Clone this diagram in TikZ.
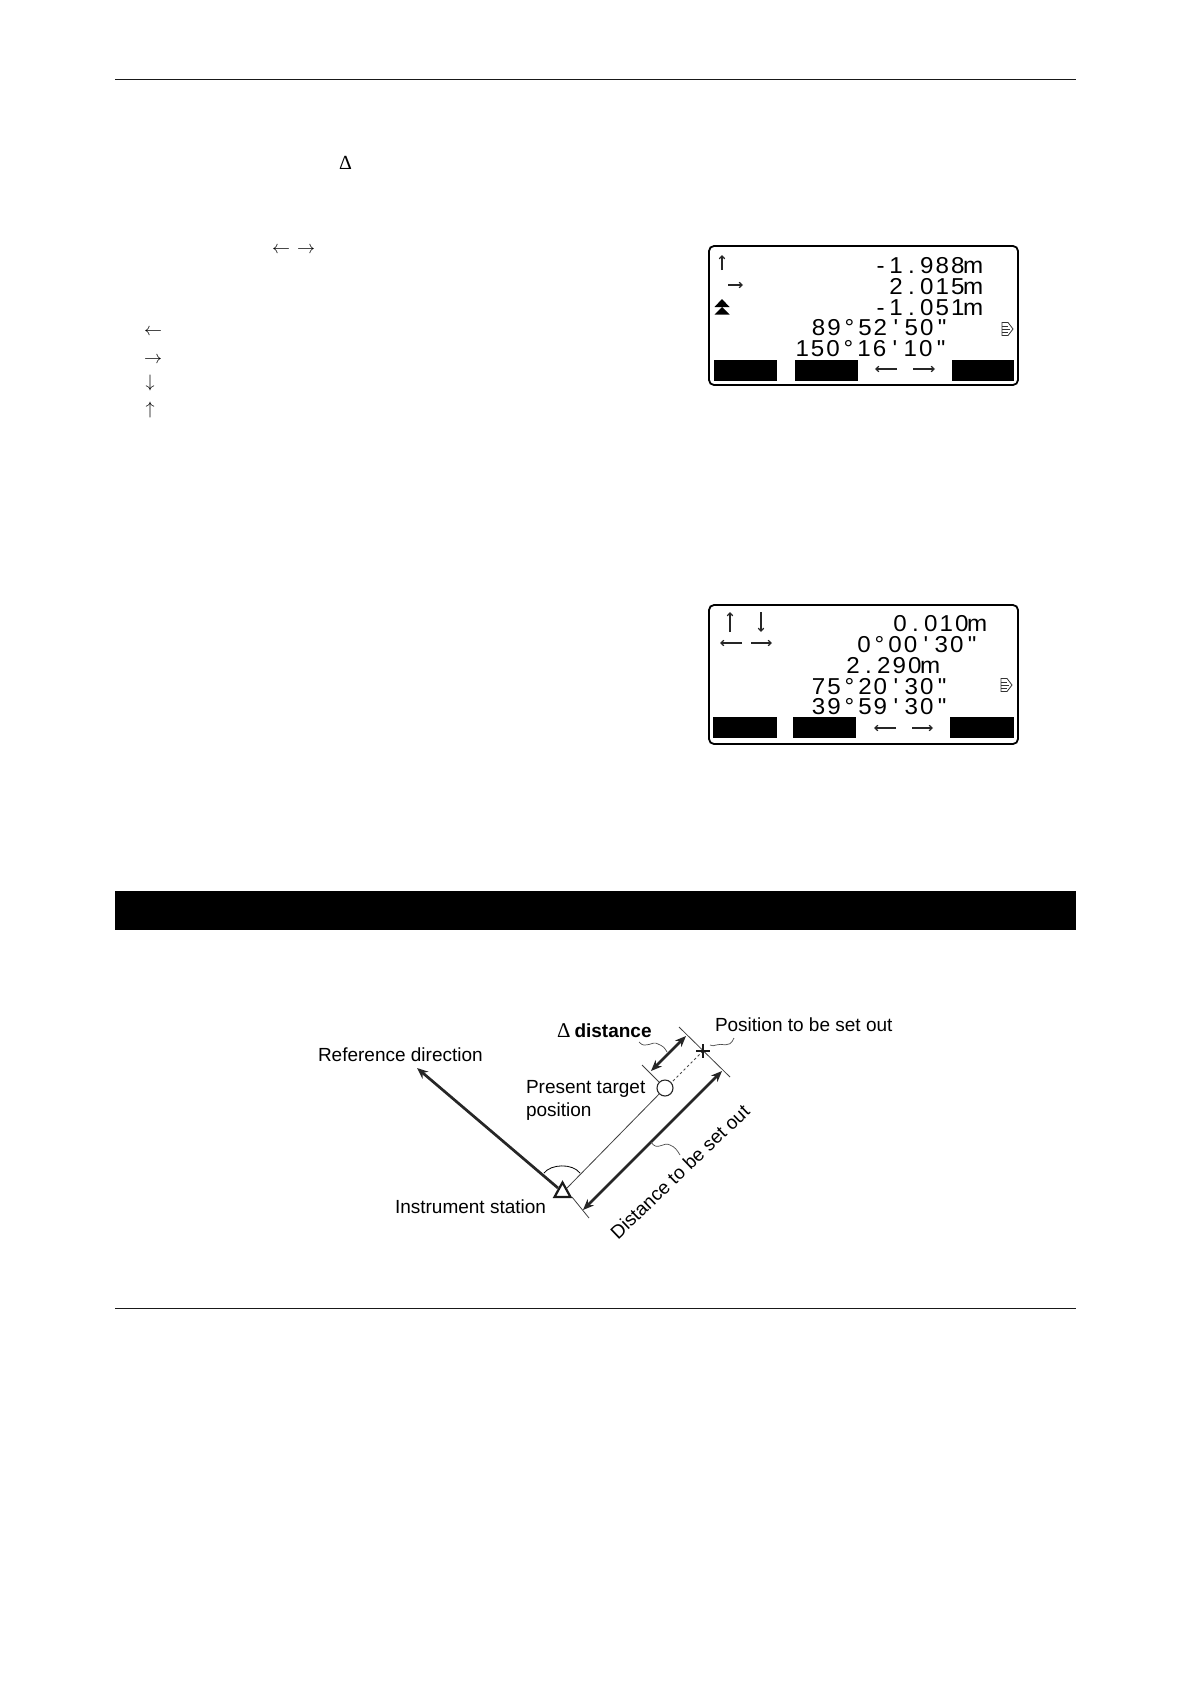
\RequirePackage{fix-cm}
\documentclass[tikz,border=0pt]{standalone}
\usepackage{fontspec}
\setmainfont{Liberation Sans}
\newfontfamily\lcdfont[FakeStretch=1.05]{Liberation Sans}
\newfontfamily\deltafont{Liberation Serif}
\usetikzlibrary{arrows.meta}
\newlength{\lcdcell}
\setlength{\lcdcell}{15.45pt}
\makeatletter
\def\lcdchars#1{\lcdchari#1\relax}
\def\lcdchari#1{\ifx#1\relax\else\makebox[\lcdcell]{#1}\expandafter\lcdchari\fi}
\makeatother
\newcommand{\lcdtext}[1]{{\lcdfont\fontsize{23}{23}\selectfont\lcdchars{#1}}}
\newcommand{\lab}{\fontsize{19}{22.5}\selectfont}
\newcommand{\glyph}{\fontsize{18}{18}\selectfont}
\tikzset{
  x=1pt,y=-1pt,
  every node/.style={inner sep=0pt,outer sep=0pt},
  lcdbox/.style={draw=black,line width=1.8pt,rounded corners=5pt},
  softkey/.style={fill=black},
  lcdrow/.style={anchor=base east},
  lcdarrow/.style={draw=black!85,line width=1.2pt,-{Straight Barb[length=3pt,width=5.5pt]}},
  textglyph/.style={anchor=center},
  pagerule/.style={draw=black!90,line width=1.1pt},
  thickarrow/.style={draw=black!85,line width=2.7pt,-{Stealth[length=11pt,width=9pt]}},
  dblarrow/.style={draw=black!85,line width=2.7pt,{Stealth[length=11pt,width=9pt]}-{Stealth[length=11pt,width=9pt]}},
  thinline/.style={draw=black!75,line width=0.8pt},
  wavy/.style={draw=black!70,line width=0.7pt},
  label text/.style={anchor=base west,font=\lab},
}
\begin{document}
\begin{tikzpicture}
\useasboundingbox (0,0) rectangle (1191,1684);
\fill[white] (0,0) rectangle (1191,1684);

% page furniture
\coordinate (r1a) at (115,79.5); \coordinate (r1b) at (1076,79.5);
\draw[pagerule] (r1a) -- (r1b);
\coordinate (r2a) at (115,1308); \coordinate (r2b) at (1076,1308);
\draw[pagerule,line width=0.8pt] (r2a) -- (r2b);
\fill[black] (115,890.5) rectangle (1076,930);

% inline glyphs of the page
\node[textglyph] (dtop) at (345.5,163) {\deltafont\fontsize{20}{20}\selectfont Δ};
\node[textglyph] (tl) at (281,250) {\glyph$\leftarrow$};
\node[textglyph] (tr) at (306,250) {\glyph$\rightarrow$};
\node[textglyph] (la) at (153,332) {\glyph$\leftarrow$};
\node[textglyph] (ra) at (153,360) {\glyph$\rightarrow$};
\node[textglyph] (da) at (150,383) {\glyph$\downarrow$};
\node[textglyph] (ua) at (150,410) {\glyph$\uparrow$};

% first screen
\draw[lcdbox] (709,246) rectangle (1018,385);
\node[lcdrow] (a1) at (981,273) {\lcdtext{-1.988m}};
\node[lcdrow] (a2) at (981,294) {\lcdtext{2.015m}};
\node[lcdrow] (a3) at (981,315) {\lcdtext{-1.051m}};
\node[lcdrow] (a4) at (950,335) {\lcdtext{89°52'50"}};
\node[lcdrow] (a5) at (949,356) {\lcdtext{150°16'10"}};
\draw[lcdarrow] (722,270) -- (722,255);
\draw[lcdarrow] (728,285) -- (743,285);
\fill[black] (722,299) -- (729.5,307) -- (714.5,307) -- cycle;
\fill[black] (722,307) -- (729.5,314.5) -- (714.5,314.5) -- cycle;
\draw[black!80,line width=0.8pt] (1002,322.5) -- (1008,322.5) -- (1013,329) -- (1008,335.5) -- (1002,335.5) -- cycle;
\draw[black!80,line width=0.6pt] (1002,326) -- (1008,326) (1002,329) -- (1010,329) (1002,332) -- (1008,332);
\fill[softkey] (714,360) rectangle (777,381);
\fill[softkey] (795,360) rectangle (858,381);
\fill[softkey] (952,360) rectangle (1014,381);
\draw[lcdarrow] (897,369) -- (875,369);
\draw[lcdarrow] (913,369) -- (935,369);

% second screen
\draw[lcdbox] (709,605) rectangle (1018,744);
\node[lcdrow] (b1) at (985,631) {\lcdtext{0.010m}};
\node[lcdrow] (b2) at (980,652) {\lcdtext{0°00'30"}};
\node[lcdrow] (b3) at (938,673) {\lcdtext{2.290m}};
\node[lcdrow] (b4) at (950,694) {\lcdtext{75°20'30"}};
\node[lcdrow] (b5) at (950,714) {\lcdtext{39°59'30"}};
\draw[lcdarrow] (730,632) -- (730,612);
\draw[lcdarrow] (761,612) -- (761,632);
\draw[lcdarrow] (742,643) -- (720,643);
\draw[lcdarrow] (751,643) -- (772,643);
\draw[black!80,line width=0.8pt] (1001,678.5) -- (1007,678.5) -- (1012,685) -- (1007,691.5) -- (1001,691.5) -- cycle;
\draw[black!80,line width=0.6pt] (1001,682) -- (1007,682) (1001,685) -- (1009,685) (1001,688) -- (1007,688);
\fill[softkey] (713,717) rectangle (777,738);
\fill[softkey] (793,717) rectangle (856,738);
\fill[softkey] (950,717) rectangle (1014,738);
\draw[lcdarrow] (896,728) -- (874,728);
\draw[lcdarrow] (912,728) -- (933,728);

% set-out diagram
\node[label text] (refdir) at (318,1061) {Reference direction};
\node[label text] (inst) at (395,1213) {Instrument station};
\node[label text] (pres) at (526,1093) {Present target};
\node[label text] (pres2) at (526,1116) {position};
\node[label text] (pos) at (715,1031) {Position to be set out};
\node[label text] (delta) at (557,1037) {{\deltafont\fontsize{21}{21}\selectfont Δ}\hspace{4pt}\textbf{distance}};
\node[anchor=base west,font=\lab,rotate=43.7] (dist) at (618,1240) {Distance to be set out};

% geometry
\node[draw=black!85,line width=1.1pt,circle,minimum size=16pt,fill=white] (tgt) at (665,1088) {};
\coordinate (refend) at (417,1068);
\coordinate (reft) at (558,1188);
\coordinate (base1) at (567,1188);
\draw[thinline] (base1) -- (tgt);
\draw[thickarrow] (reft) -- (refend);
\draw[draw=black!90,line width=2.2pt,line join=miter,fill=none] (562.5,1182.5) -- (570.5,1197) -- (554.5,1197) -- cycle;
\coordinate (t1a) at (572,1197); \coordinate (t1b) at (589,1218);
\draw[thinline] (t1a) -- (t1b);
\coordinate (t2a) at (642,1065); \coordinate (t2b) at (659,1082);
\draw[thinline] (t2a) -- (t2b);
\coordinate (t3a) at (679,1027); \coordinate (t3b) at (730,1077);
\draw[thinline] (t3a) -- (t3b);
\coordinate (d1) at (583,1210); \coordinate (d2) at (722,1071);
\draw[dblarrow] (d1) -- (d2);
\coordinate (e1) at (651,1071); \coordinate (e2) at (686,1036);
\draw[dblarrow] (e1) -- (e2);
\coordinate (star) at (703,1051);
\coordinate (dot) at (673,1081);
\draw[draw=black!70,line width=0.8pt,dash pattern=on 2.5pt off 2.5pt] (dot) -- (star);
\draw[black!90,line width=1.7pt] (703,1044) -- (703,1058) (696,1051) -- (710,1051);
\draw[thinline,draw=black] (544,1173) .. controls (551,1164) and (572,1163) .. (580,1173);
\coordinate (w1a) at (639,1042); \coordinate (w1b) at (667,1052);
\draw[wavy] (w1a) .. controls (646,1050) and (652,1040) .. (658,1044) .. controls (663,1046) and (665,1048) .. (w1b);
\coordinate (w2a) at (734,1038); \coordinate (w2b) at (710,1045);
\draw[wavy] (w2a) .. controls (729,1050) and (722,1042) .. (716,1045) .. controls (714,1046) and (712,1046) .. (w2b);
\coordinate (w3a) at (651,1142); \coordinate (w3b) at (680,1155);
\draw[wavy] (w3a) .. controls (657,1152) and (664,1141) .. (670,1145) .. controls (675,1147) and (677,1150) .. (w3b);
\end{tikzpicture}
\end{document}
